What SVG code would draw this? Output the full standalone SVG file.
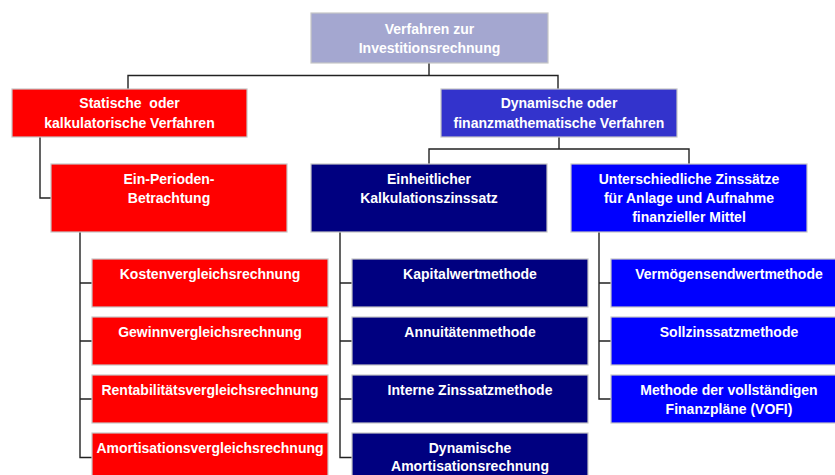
<svg xmlns="http://www.w3.org/2000/svg" width="835" height="475" viewBox="0 0 835 475">
<style>
.b{stroke:#c6c6c6;stroke-width:1.2}
.top{fill:#a4a7d0}
.red{fill:#ff0000}
.dyn{fill:#3333cc}
.navy{fill:#000080}
.blue{fill:#0000ff}
text{font-family:"Liberation Sans",Arial,sans-serif;font-size:14px;font-weight:bold;fill:#ffffff;text-anchor:middle;white-space:pre}
.c{fill:none;stroke:#222222;stroke-width:1.4}
</style>
<rect width="835" height="475" fill="#ffffff"/>
<g id="connectors" class="c">
<path d="M429,63V75.5M128,89V75.5H558V89"/>
<path d="M40,137V198H51"/>
<path d="M559,137V149M429,164V149H689V164"/>
<path d="M80,232V457.5H92M80,283H92M80,341H92M80,399H92"/>
<path d="M340,232V457.5H352M340,283H352M340,341H352M340,399H352"/>
<path d="M599,232V399H611M599,283H611M599,341H611"/>
</g>
<g id="n-root"><rect class="b top" x="311" y="13" width="237" height="50"/><text x="429.5" y="34">Verfahren zur</text><text x="429.5" y="53">Investitionsrechnung</text></g>
<g id="n-statisch"><rect class="b red" x="12" y="89" width="235" height="48"/><text x="129.5" y="108" xml:space="preserve">Statische  oder</text><text x="129.5" y="128">kalkulatorische Verfahren</text></g>
<g id="n-dynamisch"><rect class="b dyn" x="441" y="89" width="236" height="48"/><text x="559" y="108">Dynamische oder</text><text x="559" y="128">finanzmathematische Verfahren</text></g>
<g id="n-einperioden"><rect class="b red" x="51" y="164" width="236" height="68"/><text x="169" y="184">Ein-Perioden-</text><text x="169" y="203">Betrachtung</text></g>
<g id="n-einheitlich"><rect class="b navy" x="311" y="164" width="236" height="68"/><text x="429" y="184">Einheitlicher</text><text x="429" y="203">Kalkulationszinssatz</text></g>
<g id="n-unterschiedlich"><rect class="b blue" x="571" y="164" width="236" height="68"/><text x="689" y="184">Unterschiedliche Zinssätze</text><text x="689" y="203">für Anlage und Aufnahme</text><text x="689" y="222">finanzieller Mittel</text></g>
<g id="n-kosten"><rect class="b red" x="92" y="259" width="236" height="48"/><text x="210" y="279">Kostenvergleichsrechnung</text></g>
<g id="n-gewinn"><rect class="b red" x="92" y="317" width="236" height="48"/><text x="210" y="337">Gewinnvergleichsrechnung</text></g>
<g id="n-rentabilitaet"><rect class="b red" x="92" y="375" width="236" height="48"/><text x="210" y="395">Rentabilitätsvergleichsrechnung</text></g>
<g id="n-amortisation"><rect class="b red" x="92" y="433" width="236" height="48"/><text x="210" y="453">Amortisationsvergleichsrechnung</text></g>
<g id="n-kapitalwert"><rect class="b navy" x="352" y="259" width="236" height="48"/><text x="470" y="279">Kapitalwertmethode</text></g>
<g id="n-annuitaeten"><rect class="b navy" x="352" y="317" width="236" height="48"/><text x="470" y="337">Annuitätenmethode</text></g>
<g id="n-interne"><rect class="b navy" x="352" y="375" width="236" height="48"/><text x="470" y="395">Interne Zinssatzmethode</text></g>
<g id="n-dynamort"><rect class="b navy" x="352" y="433" width="236" height="48"/><text x="470" y="453">Dynamische</text><text x="470" y="471">Amortisationsrechnung</text></g>
<g id="n-vermoegen"><rect class="b blue" x="611" y="259" width="236" height="48"/><text x="729" y="279">Vermögensendwertmethode</text></g>
<g id="n-sollzins"><rect class="b blue" x="611" y="317" width="236" height="48"/><text x="729" y="337">Sollzinssatzmethode</text></g>
<g id="n-vofi"><rect class="b blue" x="611" y="375" width="236" height="48"/><text x="729" y="395">Methode der vollständigen</text><text x="729" y="414">Finanzpläne (VOFI)</text></g>
</svg>
